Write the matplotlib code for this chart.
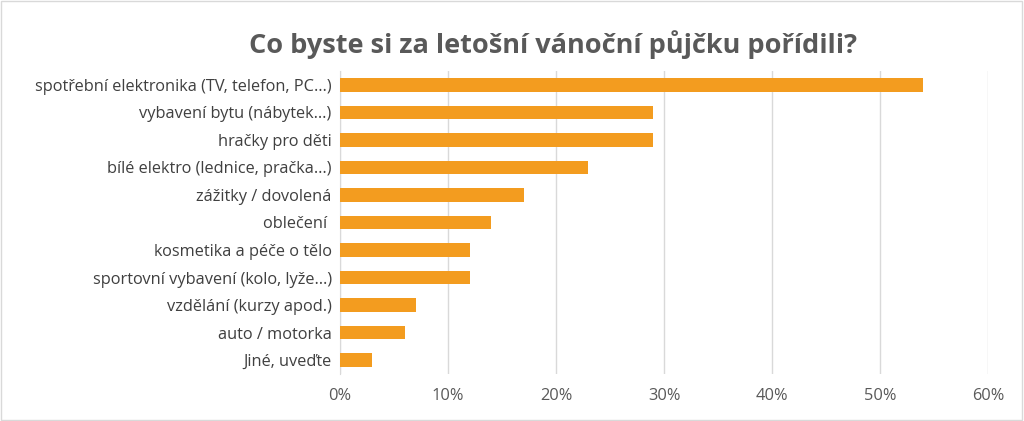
import matplotlib
matplotlib.use("Agg")
import matplotlib.pyplot as plt
from matplotlib.ticker import PercentFormatter

categories = ["spotřební elektronika (TV, telefon, PC…)", "vybavení bytu (nábytek…)",
              "hračky pro děti", "bílé elektro (lednice, pračka…)", "zážitky / dovolená",
              "oblečení ", "kosmetika a péče o tělo", "sportovní vybavení (kolo, lyže…)",
              "vzdělání (kurzy apod.)", "auto / motorka", "Jiné, uveďte"]
values = [54, 29, 29, 23, 17, 14, 12, 12, 7, 6, 3]
ticks = [0, 10, 20, 30, 40, 50, 60]

plt.rcParams["font.family"] = "Open Sans"
fig = plt.figure(figsize=(10.24, 4.21), dpi=100)
fig.patches.append(plt.Rectangle((0.001, 0.002), 0.997, 0.995, transform=fig.transFigure,
                                 fill=False, edgecolor="#d9d9d9", linewidth=1))
ax = fig.add_axes([0.332, 0.112, 0.633, 0.719])
y = list(range(len(categories)))
ax.barh(y, values, height=0.48, color="#f39c1f", zorder=3)
ax.set_yticks(y)
ax.set_yticklabels(categories, fontsize=11.8, color="#404040")
ax.set_ylim(len(categories) - 0.5, -0.5)
ax.set_xlim(0, 60)
ax.set_xticks(ticks)
ax.xaxis.set_major_formatter(PercentFormatter(decimals=0))
ax.tick_params(axis="x", labelsize=11.8, colors="#595959", length=0, pad=10)
ax.tick_params(axis="y", length=0, pad=6)
ax.grid(axis="x", color="#d9d9d9", linewidth=1, zorder=0)
for s in ["top", "right", "bottom"]:
    ax.spines[s].set_visible(False)
ax.spines["left"].set_color("#d9d9d9")
fig.text(0.54, 0.895, "Co byste si za letošní vánoční půjčku pořídili?", ha="center",
         va="center", fontsize=19.5, fontweight="bold", color="#595959")
fig.savefig("out.png", dpi=100)
